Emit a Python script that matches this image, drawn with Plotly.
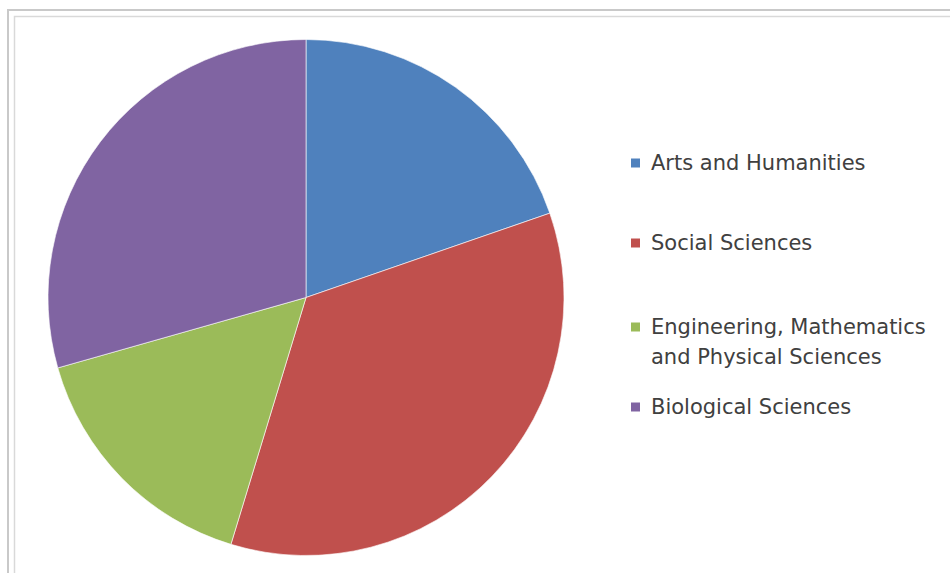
import plotly.graph_objects as go

labels = ["Arts and Humanities", "Social Sciences",
          "Engineering, Mathematics and Physical Sciences", "Biological Sciences"]
legend_text = ["Arts and Humanities", "Social Sciences",
               "Engineering, Mathematics<br>and Physical Sciences", "Biological Sciences"]
values = [19.7, 35.0, 15.9, 29.4]
colors = ["#4F81BD", "#C0504D", "#9BBB59", "#8064A2"]

W, H = 950, 573

def px(x):
    return x / W

def py(y):
    return 1 - y / H

fig = go.Figure()
fig.add_trace(go.Pie(
    labels=labels, values=values, sort=False, direction="clockwise", rotation=0,
    marker=dict(colors=colors, line=dict(color="rgba(255,255,255,0.6)", width=1)),
    textinfo="none", hoverinfo="label+percent", showlegend=False,
    domain=dict(x=[px(48), px(564)], y=[py(555.5), py(39.5)]),
))

def corner_path(x, y):
    return f"M {px(x)},{py(H + 5)} L {px(x)},{py(y)} L {px(W + 5)},{py(y)}"

shapes = [
    dict(type="path", xref="paper", yref="paper", path=corner_path(8, 10),
         line=dict(color="#c9c9c9", width=2)),
    dict(type="path", xref="paper", yref="paper", path=corner_path(14.5, 16.5),
         line=dict(color="#d9d9d9", width=1.5)),
]
annotations = []
leg_y = [163, 243, 327, 407]
line_gap = 30
font = dict(family="DejaVu Sans", size=21, color="#404040")
for txt, col, yc in zip(legend_text, colors, leg_y):
    shapes.append(dict(type="rect", xref="paper", yref="paper",
                       x0=px(631), x1=px(640), y0=py(yc - 4.5), y1=py(yc + 4.5),
                       fillcolor=col, line=dict(width=0)))
    for i, line in enumerate(txt.split("<br>")):
        annotations.append(dict(xref="paper", yref="paper", x=px(649), y=py(yc + i * line_gap),
                                xanchor="left", yanchor="middle", align="left", showarrow=False,
                                text=line, font=font))

fig.update_layout(
    width=W, height=H, margin=dict(l=0, r=0, t=0, b=0),
    paper_bgcolor="white", plot_bgcolor="white",
    shapes=shapes, annotations=annotations, showlegend=False,
)
fig.write_html("out.html", config={"displayModeBar": False},
               post_script="document.body.style.margin='0';document.body.style.overflow='hidden';")
